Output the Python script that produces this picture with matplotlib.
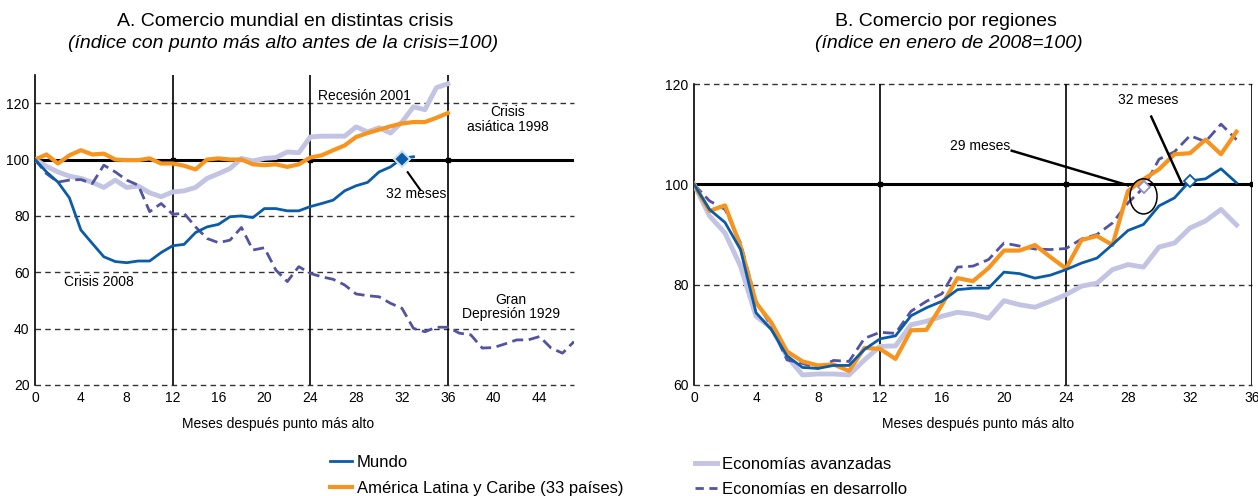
import matplotlib
matplotlib.use("Agg")
import matplotlib.pyplot as plt
from matplotlib.patches import Ellipse
from matplotlib.lines import Line2D
import numpy as np

plt.rcParams['font.family'] = ['Liberation Sans', 'DejaVu Sans']

# ---------- Panel A data (months after peak) ----------
mundo_2008 = [100, 95.6, 92, 86.4, 75, 70.2, 65.5, 63.8, 63.4, 64, 64, 67, 69.4, 69.9,
              74.1, 76.1, 77, 79.7, 80, 79.4, 82.6, 82.6, 81.8, 81.8, 83.3, 84.4, 85.6,
              88.9, 90.7, 91.9, 95.6, 97.4, 100.4, 101]
asia_1998 = [100, 101.8, 98.6, 101.5, 103.3, 101.8, 102.1, 100, 99.8, 99.8, 100.4, 98.6,
             98.6, 97.8, 96.5, 100, 100.4, 100, 100, 98.3, 98, 98.3, 97.4, 98.3, 100.7,
             101.5, 103.3, 105, 108, 109.4, 110.6, 111.8, 112.8, 113.3, 113.3, 114.8, 116.5]
recesion_2001 = [100, 97.6, 95.6, 94.1, 93.3, 91.9, 90.1, 92.7, 90.1, 90.6, 88.2, 86.8,
                 88.5, 88.9, 90.1, 93.3, 95, 96.8, 100.4, 99.5, 100.4, 100.7, 102.7, 102.4,
                 108, 108.3, 108.3, 108.3, 111.6, 109.8, 111.3, 109.4, 113.3, 118.7, 117.7,
                 125.5, 126.9]
depresion_1929 = [100, 95, 92, 92.7, 92.9, 91.5, 98, 95.6, 92.7, 90.9, 81.5, 84.4, 80.6,
                  80.9, 76.1, 72, 70.5, 71.4, 75.9, 67.9, 68.7, 60.8, 56.7, 62, 59.6, 58.4,
                  57.5, 55.5, 52.3, 51.7, 51.3, 49, 47.2, 40.1, 38.9, 40.5, 40.5, 38.4,
                  37.8, 33.1, 33.3, 34.6, 36, 36, 37.2, 33.1, 31.3, 35.4]

# ---------- Panel B data (index Jan 2008 = 100) ----------
mundo_b = [100, 95, 92.4, 87, 74.4, 71, 65.8, 63.5, 63.3, 63.9, 63.9, 67.1, 69.2, 69.8,
           73.8, 75.4, 76.7, 79, 79.3, 79.3, 82.5, 82.2, 81.3, 81.9, 83, 84.3, 85.3, 88,
           90.8, 92, 95.7, 97.3, 100.7, 101.1, 103.1, 100.3]
alc_b = [100, 94.7, 95.8, 87.7, 76.4, 72.4, 66.7, 64.7, 63.9, 64.1, 62.8, 67.4, 67.2,
         65.2, 70.9, 71, 76, 81.3, 80.7, 83.3, 86.8, 86.8, 87.9, 85.5, 83.2, 88.9, 89.7,
         87.9, 98.7, 101, 103, 106, 106.2, 108.9, 106, 110.5]
avanzadas_b = [100, 93.7, 90.3, 83.7, 73.7, 71.4, 65.7, 62, 62.2, 62.2, 62, 65, 67.7,
               67.8, 72, 72.7, 73.7, 74.5, 74.1, 73.3, 76.8, 76, 75.5, 76.7, 78, 79.7,
               80.3, 83, 84, 83.5, 87.5, 88.3, 91.3, 92.7, 95, 91.9]
desarrollo_b = [100, 96.7, 95, 88.3, 76.7, 71.7, 65, 64.3, 63.3, 64.9, 64.7, 69.3, 70.5,
                70.3, 74.7, 76.7, 78.2, 83.5, 83.7, 85, 88.3, 87.7, 87.1, 87, 87.2, 89.1,
                90, 92.3, 96.3, 99.3, 105, 106.5, 109.7, 108.5, 112, 108.9]

xticks_a = list(range(0, 45, 4))
yticks_a = [20, 40, 60, 80, 100, 120]
xticks_b = list(range(0, 37, 4))
yticks_b = [60, 80, 100, 120]

C_MUNDO = '#0b5ca8'
C_ALC = '#f7941d'
C_AV = '#c3c3e3'
C_DES = '#5353a3'

fig = plt.figure(figsize=(12.58, 4.96), dpi=100)
axA = fig.add_axes([35/1258, 1-385/496, (574-35)/1258, (385-75)/496])
axB = fig.add_axes([694/1258, 1-385/496, (1252-694)/1258, (385-84)/496])


def style(ax, xlim, ylim, xticks, yticks, xlab_x):
    ax.set_xlim(*xlim)
    ax.set_ylim(*ylim)
    for s in ['top', 'right', 'bottom']:
        ax.spines[s].set_visible(False)
    ax.spines['left'].set_linewidth(1.2)
    ax.set_xticks(xticks)
    ax.set_yticks(yticks)
    ax.tick_params(length=0, labelsize=10, pad=4)
    for yv in yticks:
        if yv == 100:
            ax.axhline(100, color='black', lw=2.2, zorder=1.5)
        else:
            ax.axhline(yv, color='#333333', lw=1.0, ls=(0, (4, 3)), zorder=1, clip_on=False)
    for xv in (12, 24, 36):
        ax.axvline(xv, color='black', lw=1.2, zorder=1)
        ax.plot([xv], [100], marker='s', ms=3, color='black', zorder=1.6)
    ax.set_xlabel('Meses después punto más alto', fontsize=10)
    ax.xaxis.set_label_coords(xlab_x, -32 / (ax.get_position().height * 496))


# ----- Panel A -----
style(axA, (0, 47), (20, 130), xticks_a, yticks_a, (278.5-35)/539)
axA.plot(range(len(recesion_2001)), recesion_2001, color=C_AV, lw=3.5, zorder=3)
axA.plot(range(len(depresion_1929)), depresion_1929, color=C_DES, lw=2, ls=(0, (4, 2)), zorder=3)
axA.plot(range(len(asia_1998)), asia_1998, color=C_ALC, lw=3, zorder=4)
axA.plot(range(len(mundo_2008)), mundo_2008, color=C_MUNDO, lw=2, zorder=5)
axA.plot([32], [100.2], marker='D', ms=8, mfc=C_MUNDO, mec='#d0e4f5', mew=1.5, zorder=6)
axA.plot([32.5, 33.6], [95.5, 89.2], color='black', lw=1.5, zorder=6)
axA.text(33.2, 87.6, '32 meses', fontsize=10, ha='center', va='center')
axA.text(28.7, 122.4, 'Recesión 2001', fontsize=10, ha='center', va='center')
axA.text(41.2, 114.2, 'Crisis\nasiática 1998', fontsize=10, ha='center', va='center',
         linespacing=1.05)
axA.text(41.5, 47.6, 'Gran\nDepresión 1929', fontsize=10, ha='center', va='center',
         linespacing=1.05)
axA.text(5.6, 56.5, 'Crisis 2008', fontsize=10, ha='center', va='center')

# ----- Panel B -----
style(axB, (0, 36), (60, 120), xticks_b, yticks_b, (978-694)/558)
axB.plot(range(len(avanzadas_b)), avanzadas_b, color=C_AV, lw=3.5, zorder=3)
axB.plot(range(len(desarrollo_b)), desarrollo_b, color=C_DES, lw=2, ls=(0, (4, 2)), zorder=4)
axB.plot(range(len(alc_b)), alc_b, color=C_ALC, lw=3, zorder=5)
axB.plot(range(len(mundo_b)), mundo_b, color=C_MUNDO, lw=2, zorder=6)
axB.plot([29], [99.5], marker='D', ms=6, mfc='white', mec='#8f8fd0', mew=1.3, zorder=7)
axB.plot([32], [100.7], marker='D', ms=6, mfc='white', mec=C_MUNDO, mew=1.3, zorder=7)
axB.add_patch(Ellipse((29, 97.6), 1.75, 7, fill=False, ec='black', lw=1.1, zorder=8))
axB.plot([20.5, 28.0], [106.7, 99.8], color='black', lw=1.8, zorder=8)
axB.plot([29.5, 31.5], [113.5, 100], color='black', lw=1.8, zorder=8)
axB.text(20.4, 107.7, '29 meses', fontsize=10, ha='right', va='center')
axB.text(29.3, 116.8, '32 meses', fontsize=10, ha='center', va='center')

# ----- Titles -----
fig.text(285/1258, 1-21/496, 'A. Comercio mundial en distintas crisis', fontsize=14,
         ha='center', va='center')
fig.text(283/1258, 1-44/496, '(índice con punto más alto antes de la crisis=100)',
         fontsize=14, ha='center', va='center', style='italic')
fig.text(946/1258, 1-21/496, 'B. Comercio por regiones', fontsize=14,
         ha='center', va='center')
fig.text(949/1258, 1-44/496, '(índice en enero de 2008=100)',
         fontsize=14, ha='center', va='center', style='italic')

# ----- Legend -----
h1 = [Line2D([], [], color=C_MUNDO, lw=2), Line2D([], [], color=C_ALC, lw=3)]
l1 = ['Mundo', 'América Latina y Caribe (33 países)']
h2 = [Line2D([], [], color=C_AV, lw=3.5), Line2D([], [], color=C_DES, lw=2, ls=(0, (3, 2)))]
l2 = ['Economías avanzadas', 'Economías en desarrollo']
leg1 = fig.legend(h1, l1, loc='upper left', bbox_to_anchor=(330/1258, 1-455/496),
                  frameon=False, fontsize=12, handlelength=1.3, handletextpad=0.3,
                  labelspacing=0.65, borderaxespad=0, borderpad=0)
leg2 = fig.legend(h2, l2, loc='upper left', bbox_to_anchor=(695/1258, 1-457/496),
                  frameon=False, fontsize=12, handlelength=1.3, handletextpad=0.3,
                  labelspacing=0.6, borderaxespad=0, borderpad=0)

fig.savefig('out.png', dpi=100)
